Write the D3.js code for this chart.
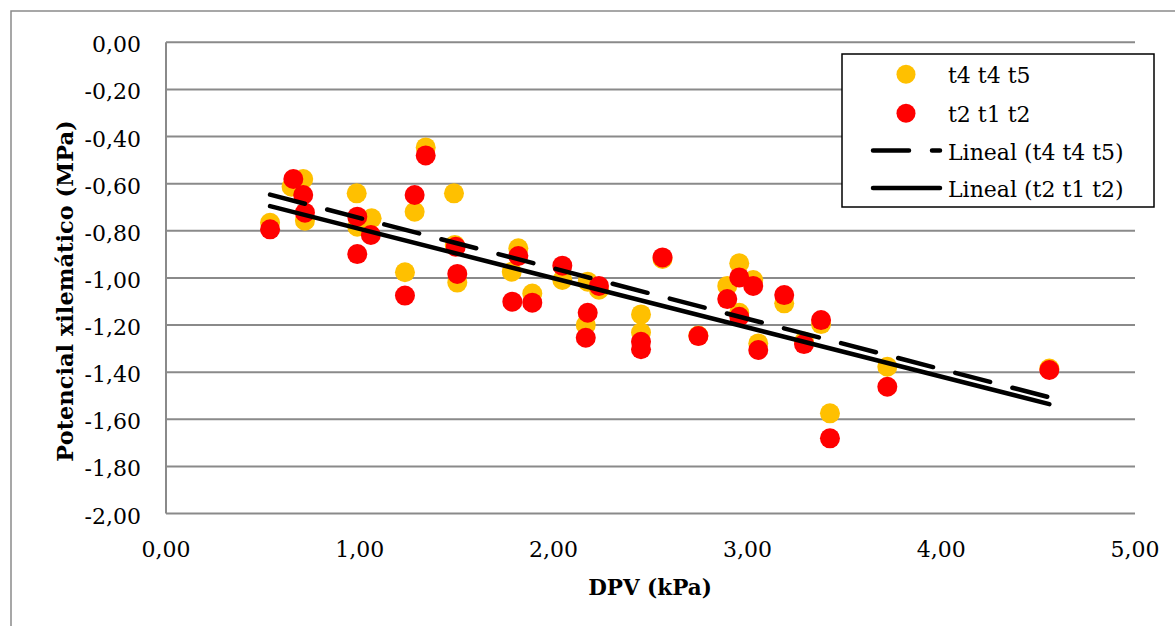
<!DOCTYPE html>
<html>
<head>
<meta charset="utf-8">
<script src="https://cdn.jsdelivr.net/npm/d3@7"></script>
<style>
  html, body { margin: 0; padding: 0; background: #ffffff; }
  svg { display: block; }
  text { font-family: "DejaVu Serif", "Liberation Serif", serif; fill: #000; }
</style>
</head>
<body>
<svg id="chart" width="1175" height="626"></svg>
<script>
// DPV (kPa) versus xylem water potential (MPa), two treatment groups
const seriesNames = ["t4 t4 t5", "t2 t1 t2"];
const trendNames = ["Lineal (t4 t4 t5)", "Lineal (t2 t1 t2)"];

const dpvA = [0.537, 0.648, 0.708, 0.717, 0.984, 0.987, 1.061, 1.233, 1.283, 1.340, 1.486, 1.490, 1.503,
  1.784, 1.818, 1.890, 2.045, 2.166, 2.176, 2.234, 2.451, 2.451, 2.562, 2.747, 2.896, 2.958, 2.958,
  3.030, 3.056, 3.190, 3.292, 3.380, 3.426, 3.722, 4.558];
const psiA = [-0.766, -0.613, -0.580, -0.757, -0.641, -0.783, -0.747, -0.976, -0.719, -0.446, -0.641, -0.860, -1.020,
  -0.974, -0.874, -1.066, -1.009, -1.200, -1.016, -1.050, -1.155, -1.232, -0.920, -1.245, -1.034, -0.938, -1.148,
  -1.009, -1.278, -1.108, -1.270, -1.196, -1.575, -1.377, -1.385];

const dpvB = [0.537, 0.657, 0.708, 0.717, 0.987, 0.987, 1.057, 1.233, 1.283, 1.340, 1.495, 1.503,
  1.787, 1.818, 1.890, 2.045, 2.176, 2.166, 2.234, 2.451, 2.451, 2.562, 2.747, 2.896, 2.958, 2.958,
  3.030, 3.056, 3.190, 3.292, 3.380, 3.426, 3.722, 4.558];
const psiB = [-0.794, -0.580, -0.648, -0.723, -0.740, -0.899, -0.818, -1.075, -0.648, -0.480, -0.868, -0.983,
  -1.101, -0.907, -1.105, -0.948, -1.148, -1.254, -1.034, -1.271, -1.303, -0.913, -1.247, -1.090, -0.998, -1.165,
  -1.034, -1.306, -1.073, -1.281, -1.179, -1.681, -1.462, -1.391];

const xTicks = [0, 1, 2, 3, 4, 5];
const yTicks = [0, -0.2, -0.4, -0.6, -0.8, -1.0, -1.2, -1.4, -1.6, -1.8, -2.0];

const colors = ["#FFC000", "#FF0000"];
const gridColor = "#8a8a8a";

const svg = d3.select("#chart");

// outer chart frame
svg.append("rect")
  .attr("x", 11).attr("y", 11).attr("width", 1200).attr("height", 700)
  .attr("fill", "#fff").attr("stroke", gridColor).attr("stroke-width", 1.5);

const x = d3.scaleLinear().domain([0, 5]).range([166, 1135]);
const y = d3.scaleLinear().domain([-2, 0]).range([513.5, 42.3]);

const fmt = v => d3.format(".2f")(v).replace(".", ",").replace("−", "-");

// horizontal gridlines
svg.append("g").selectAll("line").data(yTicks).join("line")
  .attr("x1", x(0)).attr("x2", x(5))
  .attr("y1", d => y(d)).attr("y2", d => y(d))
  .attr("stroke", gridColor).attr("stroke-width", 2);

// left axis line
svg.append("line")
  .attr("x1", x(0)).attr("x2", x(0)).attr("y1", y(0)).attr("y2", y(-2))
  .attr("stroke", gridColor).attr("stroke-width", 2);

// y tick labels
svg.append("g").selectAll("text").data(yTicks).join("text")
  .attr("x", 141).attr("y", d => y(d) + 10)
  .attr("text-anchor", "end").attr("font-size", 22)
  .text(d => fmt(d));

// x tick labels
svg.append("g").selectAll("text").data(xTicks).join("text")
  .attr("x", d => x(d)).attr("y", 557)
  .attr("text-anchor", "middle").attr("font-size", 22)
  .text(d => fmt(d));

// axis titles
svg.append("text")
  .attr("x", 650).attr("y", 595)
  .attr("text-anchor", "middle").attr("font-size", 21.5).attr("font-weight", "bold")
  .text("DPV (kPa)");

svg.append("text")
  .attr("transform", "translate(73,291) rotate(-90)")
  .attr("text-anchor", "middle").attr("font-size", 22.5).attr("font-weight", "bold")
  .text("Potencial xilemático (MPa)");

// scatter points
const ptsA = dpvA.map((d, i) => [d, psiA[i]]);
const ptsB = dpvB.map((d, i) => [d, psiB[i]]);

svg.append("g").selectAll("circle").data(ptsA).join("circle")
  .attr("cx", d => x(d[0])).attr("cy", d => y(d[1])).attr("r", 10)
  .attr("fill", colors[0]);

svg.append("g").selectAll("circle").data(ptsB).join("circle")
  .attr("cx", d => x(d[0])).attr("cy", d => y(d[1])).attr("r", 10)
  .attr("fill", colors[1]);

// least-squares trend lines over the data range
function linearFit(pts) {
  const n = pts.length;
  const mx = d3.mean(pts, p => p[0]);
  const my = d3.mean(pts, p => p[1]);
  let sxy = 0, sxx = 0;
  pts.forEach(p => { sxy += (p[0] - mx) * (p[1] - my); sxx += (p[0] - mx) ** 2; });
  const b = sxy / sxx;
  const a = my - b * mx;
  const [x0, x1] = d3.extent(pts, p => p[0]);
  return [[x0, a + b * x0], [x1, a + b * x1]];
}

const line = d3.line().x(d => x(d[0])).y(d => y(d[1]));

svg.append("path").datum(linearFit(ptsA))
  .attr("d", line).attr("fill", "none")
  .attr("stroke", "#000").attr("stroke-width", 4.5)
  .attr("stroke-linecap", "round").attr("stroke-dasharray", "36,23");

svg.append("path").datum(linearFit(ptsB))
  .attr("d", line).attr("fill", "none")
  .attr("stroke", "#000").attr("stroke-width", 4.5)
  .attr("stroke-linecap", "round");

// legend
const lg = svg.append("g");
lg.append("rect")
  .attr("x", 842).attr("y", 54).attr("width", 312).attr("height", 153)
  .attr("fill", "#fff").attr("stroke", "#000").attr("stroke-width", 1.5);

const rows = [74.3, 113.3, 150.5, 188];
lg.append("circle").attr("cx", 906).attr("cy", rows[0]).attr("r", 9.5).attr("fill", colors[0]);
lg.append("circle").attr("cx", 906).attr("cy", rows[1]).attr("r", 9.5).attr("fill", colors[1]);
lg.append("line")
  .attr("x1", 873).attr("x2", 940).attr("y1", rows[2]).attr("y2", rows[2])
  .attr("stroke", "#000").attr("stroke-width", 4.5)
  .attr("stroke-linecap", "round").attr("stroke-dasharray", "36,23");
lg.append("line")
  .attr("x1", 873).attr("x2", 940).attr("y1", rows[3]).attr("y2", rows[3])
  .attr("stroke", "#000").attr("stroke-width", 4.5)
  .attr("stroke-linecap", "round");

const labels = [seriesNames[0], seriesNames[1], trendNames[0], trendNames[1]];
lg.selectAll("text.lab").data(labels).join("text")
  .attr("class", "lab")
  .attr("x", 948).attr("y", (d, i) => rows[i] + 9)
  .attr("font-size", 22)
  .text(d => d);
</script>
</body>
</html>
